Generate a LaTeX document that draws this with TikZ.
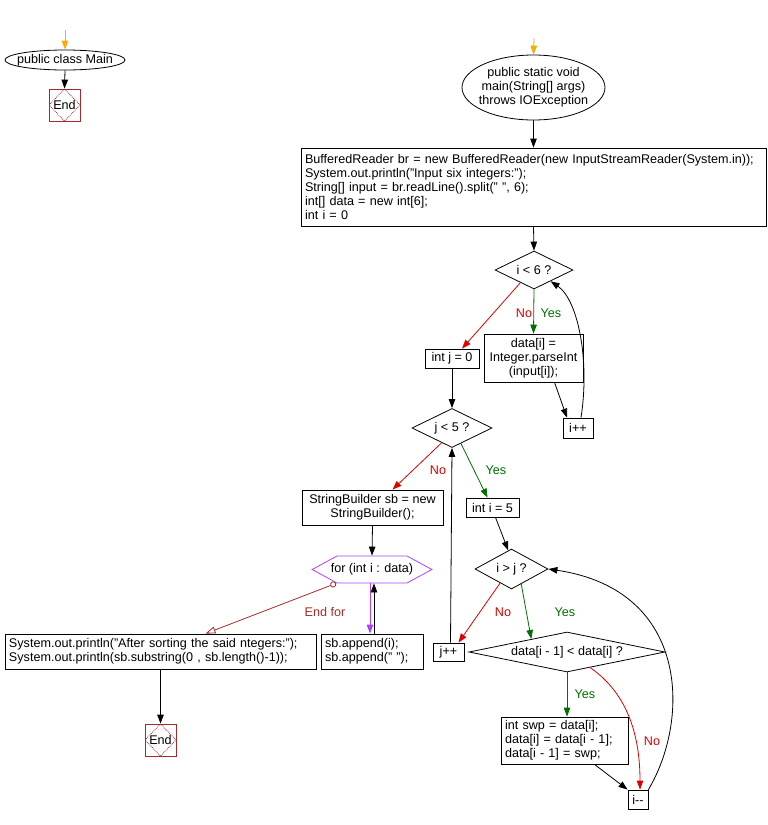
\documentclass[tikz,border=0pt]{standalone}
\usepackage{fontspec}
\setmainfont{Liberation Sans}
\usetikzlibrary{shapes.geometric,shapes.symbols,arrows.meta}

\definecolor{startorange}{RGB}{255,170,0}
\definecolor{yesgreen}{RGB}{0,110,0}
\definecolor{nored}{RGB}{220,0,0}
\definecolor{forpurple}{RGB}{176,64,255}
\definecolor{endred}{RGB}{165,42,42}

\begin{document}
\begin{tikzpicture}[x=1pt,y=-1pt,
		font=\fontsize{12.6}{14}\selectfont,
		flow/.style={line width=0.8pt,-{Triangle[length=9pt,width=6.5pt]}},
		startflow/.style={flow,startorange},
		yesflow/.style={flow,yesgreen},
		noflow/.style={flow,nored},
		loopflow/.style={flow,forpurple},
		endflow/.style={line width=0.8pt,endred,{Circle[open,length=6pt]}-{Triangle[open,length=10pt,width=7pt]}},
		oval/.style={ellipse,draw,line width=0.8pt,inner xsep=-6pt,inner ysep=0pt,align=center},
		box/.style={rectangle,draw,line width=0.8pt,inner sep=0pt,align=center},
		codebox/.style={rectangle,draw,line width=0.8pt,inner xsep=4pt,inner ysep=0pt,align=left},
		test/.style={diamond,draw,line width=0.8pt,inner sep=0pt},
		loopbox/.style={signal,signal to=east and west,signal pointer angle=57,draw=forpurple,line width=0.8pt,inner sep=0pt},
		endbox/.style={rectangle,draw=endred,line width=0.8pt,minimum width=31pt,minimum height=32pt,inner sep=0pt,
			path picture={\draw[endred,densely dotted,line width=0.8pt] (path picture bounding box.north) -- (path picture bounding box.east) -- (path picture bounding box.south) -- (path picture bounding box.west) -- cycle;}},
		yeslbl/.style={text=yesgreen,inner sep=0pt},
		nolbl/.style={text=nored,inner sep=0pt}]

		\useasboundingbox (0,0) rectangle (768,825);

		\coordinate (S1) at (65,30);
		\coordinate (S2) at (534,38);

		\node[oval,minimum width=120pt,minimum height=20pt] (M1) at (65,60) {public class Main};
		\node[endbox] (E1) at (64.5,105) {End};

		\node[oval,minimum width=143pt,minimum height=65pt] (M2) at (533.5,87.5) {public static void\\main(String[] args)\\throws IOException};
		\node[codebox,text width=457pt,minimum height=78pt] (INIT) at (533.5,187) {BufferedReader br = new BufferedReader(new InputStreamReader(System.in));\\System.out.println("Input six integers:");\\String[] input = br.readLine().split(" ", 6);\\int[] data = new int[6];\\int i = 0};

		\node[test,aspect=2,minimum width=78pt,minimum height=38pt] (C1) at (534,270) {i < 6 ?};
		\node[box,minimum width=99pt,minimum height=48pt] (READ) at (533.5,358) {data[i] =\\Integer.parseInt\\(input[i]);};
		\node[box,minimum width=30pt,minimum height=20pt] (IINC) at (578,428) {i++};
		\node[box,minimum width=54pt,minimum height=19pt] (J0) at (452,358.5) {int j = 0};

		\node[test,aspect=2,minimum width=80pt,minimum height=39pt] (C2) at (452,428) {j < 5 ?};
		\node[box,minimum width=141pt,minimum height=35pt] (SB) at (372.5,507.5) {StringBuilder sb = new\\StringBuilder();};
		\node[box,minimum width=53pt,minimum height=19pt] (I5) at (492.5,507.5) {int i = 5};

		\node[test,aspect=2,minimum width=73pt,minimum height=40pt] (C3) at (511.5,569) {i > j ?};
		\node[box,minimum width=31pt,minimum height=18pt] (JINC) at (448.5,652) {j++};
		\node[test,aspect=5,minimum width=196pt,minimum height=40pt] (C4) at (567,652) {data[i - 1] < data[i] ?};
		\node[codebox,text width=119pt,minimum height=47pt] (SWP) at (564.5,740.5) {int swp = data[i];\\data[i] = data[i - 1];\\data[i - 1] = swp;};
		\node[box,minimum width=20pt,minimum height=19pt] (IDEC) at (638,799.5) {i{-}{-}};

		\node[loopbox,minimum height=27pt] (FOR) at (372,569.5) {\makebox[70pt]{for (int i : data)}};
		\node[codebox,text width=94pt,minimum height=35pt] (APP) at (372,651.5) {sb.append(i);\\sb.append(" ");};
		\node[codebox,text width=303pt,minimum height=35pt] (OUT) at (160.5,651.5) {System.out.println("After sorting the said ntegers:");\\System.out.println(sb.substring(0 , sb.length()-1));};
		\node[endbox] (E2) at (160.5,740) {End};

		\node[nolbl] (N1) at (524,313) {No};
		\node[yeslbl] (Y1) at (551,313) {Yes};
		\node[nolbl] (N2) at (438,470) {No};
		\node[yeslbl] (Y2) at (496,470) {Yes};
		\node[nolbl] (N3) at (503,612) {No};
		\node[yeslbl] (Y3) at (565,612) {Yes};
		\node[yeslbl] (Y4) at (585,694) {Yes};
		\node[nolbl] (N4) at (652,741) {No};
		\node[text=endred,inner sep=0pt] (EF) at (325,612) {End for};

		\draw[startflow] (S1) -- (M1.north);
		\draw[flow] (M1.south) -- (E1.north);

		\draw[startflow] (S2) -- (M2.north);
		\draw[flow] (M2.south) -- (INIT.north);
		\draw[flow] (INIT.south) -- (C1.north);
		\draw[yesflow] (C1.south) -- (READ.north);
		\draw[noflow] (C1.223) -- ([xshift=10pt]J0.north);
		\draw[flow] ([xshift=21pt]READ.south) -- ([xshift=-11pt]IINC.north);
		\draw[flow] ([xshift=3pt]IINC.north) .. controls (590,360) and (578,300) .. (C1.-34);
		\draw[flow] (J0.south) -- (C2.north);

		\draw[noflow] (C2.235) -- ([xshift=20pt]SB.north);
		\draw[yesflow] (C2.-60) -- ([xshift=-5pt]I5.north);
		\draw[flow] ([xshift=3pt]I5.south) -- (C3.100);
		\draw[noflow] (C3.231) -- ([xshift=10pt]JINC.north);
		\draw[yesflow] (C3.-57) -- (C4.160);
		\draw[flow] ([xshift=2pt]JINC.north) -- (C2.south);
		\draw[yesflow] (C4.south) -- (C4.south |- SWP.north);
		\draw[noflow] (C4.-34) .. controls (630,695) and (640,740) .. ([xshift=2pt]IDEC.north);
		\draw[flow] ([xshift=30pt]SWP.south) -- (IDEC.north west);
		\draw[flow] (IDEC.north east) .. controls (690,720) and (690,590) .. (C3.east);

		\draw[flow] (SB.south) -- (FOR.north);
		\draw[loopflow] ([xshift=-2pt]FOR.south) -- ([xshift=-2pt]APP.north);
		\draw[flow] ([xshift=2pt]APP.north) -- ([xshift=2pt]FOR.south);
		\draw[endflow] ([xshift=-36pt]FOR.south) -- ([xshift=45pt]OUT.north);
		\draw[flow] (OUT.south) -- (E2.north);
	\end{tikzpicture}
\end{document}
